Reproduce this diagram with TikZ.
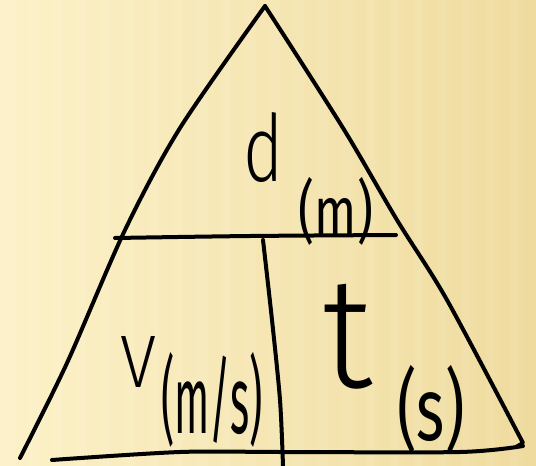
\documentclass[tikz,border=0pt]{standalone}
\usepackage{fontspec}
\newfontfamily\hand{Fira Sans Light}
\newfontfamily\handsub{Fira Sans}
\definecolor{bgL}{HTML}{FCF1C8}
\definecolor{bgR}{HTML}{EFDB9E}
\begin{document}
\begin{tikzpicture}[x=1pt,y=-1pt,
  stroke/.style={line width=4pt, line cap=round, line join=round},
  lbl/.style={inner sep=0pt, font=\hand},
  sublbl/.style={inner sep=0pt, font=\handsub}]
\useasboundingbox (0,0) rectangle (536,466);
\shade[left color=bgL, right color=bgR] (0,0) rectangle (536,466);
\foreach \x in {6,30,...,530} \fill[white, opacity=0.07] (\x,0) rectangle ++(9,466);
% triangle sides
\coordinate (apex) at (265,6);
\draw[stroke] plot[smooth, tension=0.5] coordinates {(20,458) (67,363) (125,230) (180,128) (265,6)};
\draw[stroke] plot[smooth, tension=0.5] coordinates {(265,6) (343,128) (397,220) (447,300) (523,443)} -- (516,447);
% base
\draw[stroke] plot[smooth, tension=0.5] coordinates {(52,460) (180,452) (283,452) (460,452) (523,446)};
% dividers
\draw[stroke] plot[smooth, tension=0.5] coordinates {(115,238) (250,236) (396,235)};
\draw[stroke] plot[smooth, tension=0.5] coordinates {(263,240) (272,320) (280,400) (283,466)};
% labels
\node[lbl] (d) at (264,148) {\resizebox*{40pt}{70pt}{d}};
\node[sublbl] (dm) at (336,211) {\resizebox*{74pt}{68pt}{(m)}};
\node[lbl] (v) at (139,362) {\resizebox*{36pt}{51pt}{V}};
\node[sublbl] (vms) at (212,400) {\resizebox*{101pt}{95pt}{(m/s)}};
\node[lbl] (t) at (348,337) {\resizebox*{50pt}{105pt}{t}};
\node[sublbl] (ts) at (431,409) {\resizebox*{67pt}{88pt}{(s)}};
\end{tikzpicture}
\end{document}
